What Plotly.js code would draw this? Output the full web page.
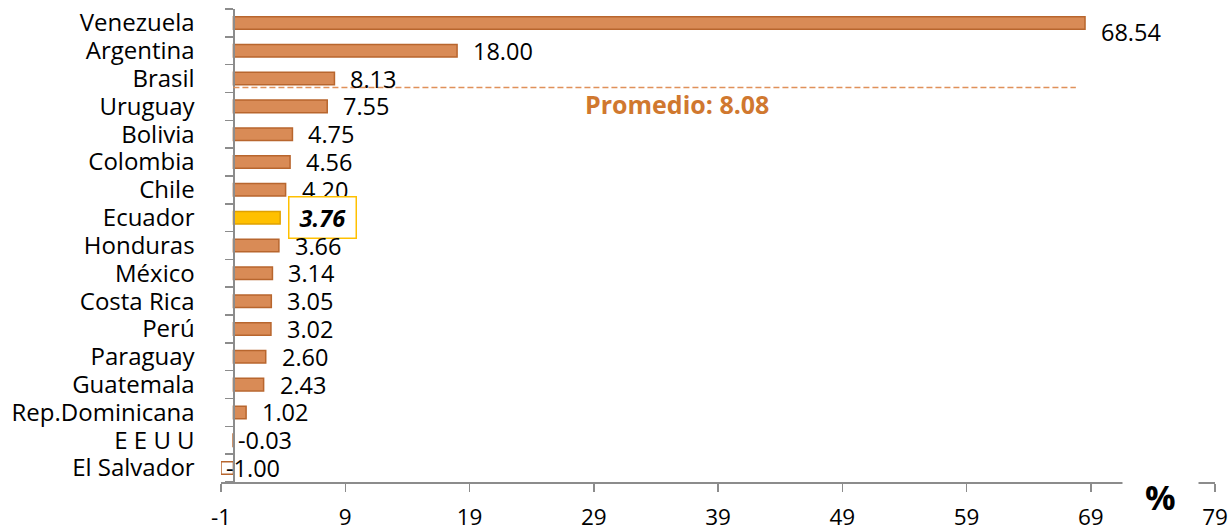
<!DOCTYPE html>
<html>
<head>
<meta charset="utf-8">
<script src="https://cdn.plot.ly/plotly-3.0.1.min.js"></script>
<style>html,body{margin:0;padding:0;background:#fff;}#chart{width:1228px;height:530px;}</style>
</head>
<body>
<div id="chart"></div>
<script>
const countries = ["Venezuela","Argentina","Brasil","Uruguay","Bolivia","Colombia","Chile","Ecuador","Honduras","México","Costa Rica","Perú","Paraguay","Guatemala","Rep.Dominicana","E E U U","El Salvador"];
const values = [68.54,18.00,8.13,7.55,4.75,4.56,4.20,3.76,3.66,3.14,3.05,3.02,2.60,2.43,1.02,-0.03,-1.00];
const promedio = 8.08;
const highlight = "Ecuador";
const xTickStart = -1, xTickEnd = 79, xTickStep = 10;

const FONT = "'Open Sans', sans-serif";
const barFill = "#D98B56", barLine = "#B8662E";
const hiFill = "#FFC000", hiLine = "#E0A100";

const fills = values.map((v,i)=> countries[i]===highlight ? hiFill : (v<0 ? "#ffffff" : barFill));
const lines = values.map((v,i)=> countries[i]===highlight ? hiLine : barLine);

const tickvals = [];
for (let t = xTickStart; t <= xTickEnd; t += xTickStep) tickvals.push(t);
const ticktext = tickvals.map(t => String(t));

const trace = {
  type: "bar", orientation: "h",
  x: values, y: countries,
  width: 0.45,
  marker: {color: fills, line: {color: lines, width: 1.5}},
  hoverinfo: "x+y"
};

const annotations = values.map((v,i)=>{
  const isHi = countries[i]===highlight;
  const a = {
    x: v, y: countries[i], xref: "x", yref: "y",
    text: isHi ? "&nbsp;<b><i>"+v.toFixed(2)+"</i></b>&nbsp;" : v.toFixed(2),
    showarrow: false, xanchor: "left",
    xshift: v<0 ? 3 : 14,
    yshift: i===0 ? -9 : 0,
    font: {family: FONT, size: 23.5, color: "#000"}
  };
  if (isHi) {
    a.xshift = 8;
    a.bordercolor = hiFill; a.borderwidth = 1.5; a.borderpad = 4; a.bgcolor = "#fff";
  }
  return a;
});

annotations.push({
  x: 35.7, y: 2.9, xref: "x", yref: "y",
  text: "<b>Promedio: " + promedio.toFixed(2) + "</b>",
  showarrow: false, xanchor: "center",
  font: {family: FONT, size: 25, color: "#D0782F"}
});
annotations.push({
  x: 0.945, y: -0.032, xref: "paper", yref: "paper",
  text: "<b>%</b>", showarrow: false, xanchor: "center", yanchor: "middle",
  bgcolor: "#fff", borderpad: 22,
  font: {family: FONT, size: 34, color: "#000"}
});

const layout = {
  width: 1228, height: 530,
  margin: {l: 221, r: 13, t: 9, b: 48},
  paper_bgcolor: "#fff", plot_bgcolor: "#fff",
  showlegend: false,
  font: {family: FONT, size: 24, color: "#000"},
  xaxis: {
    range: [xTickStart, xTickEnd],
    tickmode: "array", tickvals: tickvals, ticktext: ticktext,
    ticklabeloverflow: "allow",
    showgrid: false, zeroline: false,
    showline: true, linecolor: "#8C8C8C", linewidth: 1.5,
    ticks: "outside", ticklen: 8, tickcolor: "#8C8C8C", tickwidth: 1.5,
    ticklabelstandoff: 6,
    tickfont: {family: FONT, size: 22.5, color: "#000"},
    fixedrange: true
  },
  yaxis: {
    type: "category", range: [countries.length - 0.5, -0.5],
    tickmode: "array", tickvals: countries, ticktext: countries,
    anchor: "free", position: (0 - xTickStart)/(xTickEnd - xTickStart),
    showgrid: false, zeroline: false,
    showline: true, linecolor: "#8C8C8C", linewidth: 1.5,
    ticks: "outside", tickson: "boundaries", ticklen: 8, tickcolor: "#8C8C8C", tickwidth: 1.5,
    ticklabelstandoff: 34,
    tickfont: {family: FONT, size: 24, color: "#000"},
    fixedrange: true
  },
  shapes: [{
    type: "line", xref: "x", yref: "y",
    x0: 0, x1: 67.8, y0: 2.32, y1: 2.32,
    line: {color: "#E0915A", width: 1.5, dash: "6px,3px"}
  }],
  annotations: annotations
};

Plotly.newPlot("chart", [trace], layout, {displayModeBar: false, staticPlot: true});
</script>
</body>
</html>
